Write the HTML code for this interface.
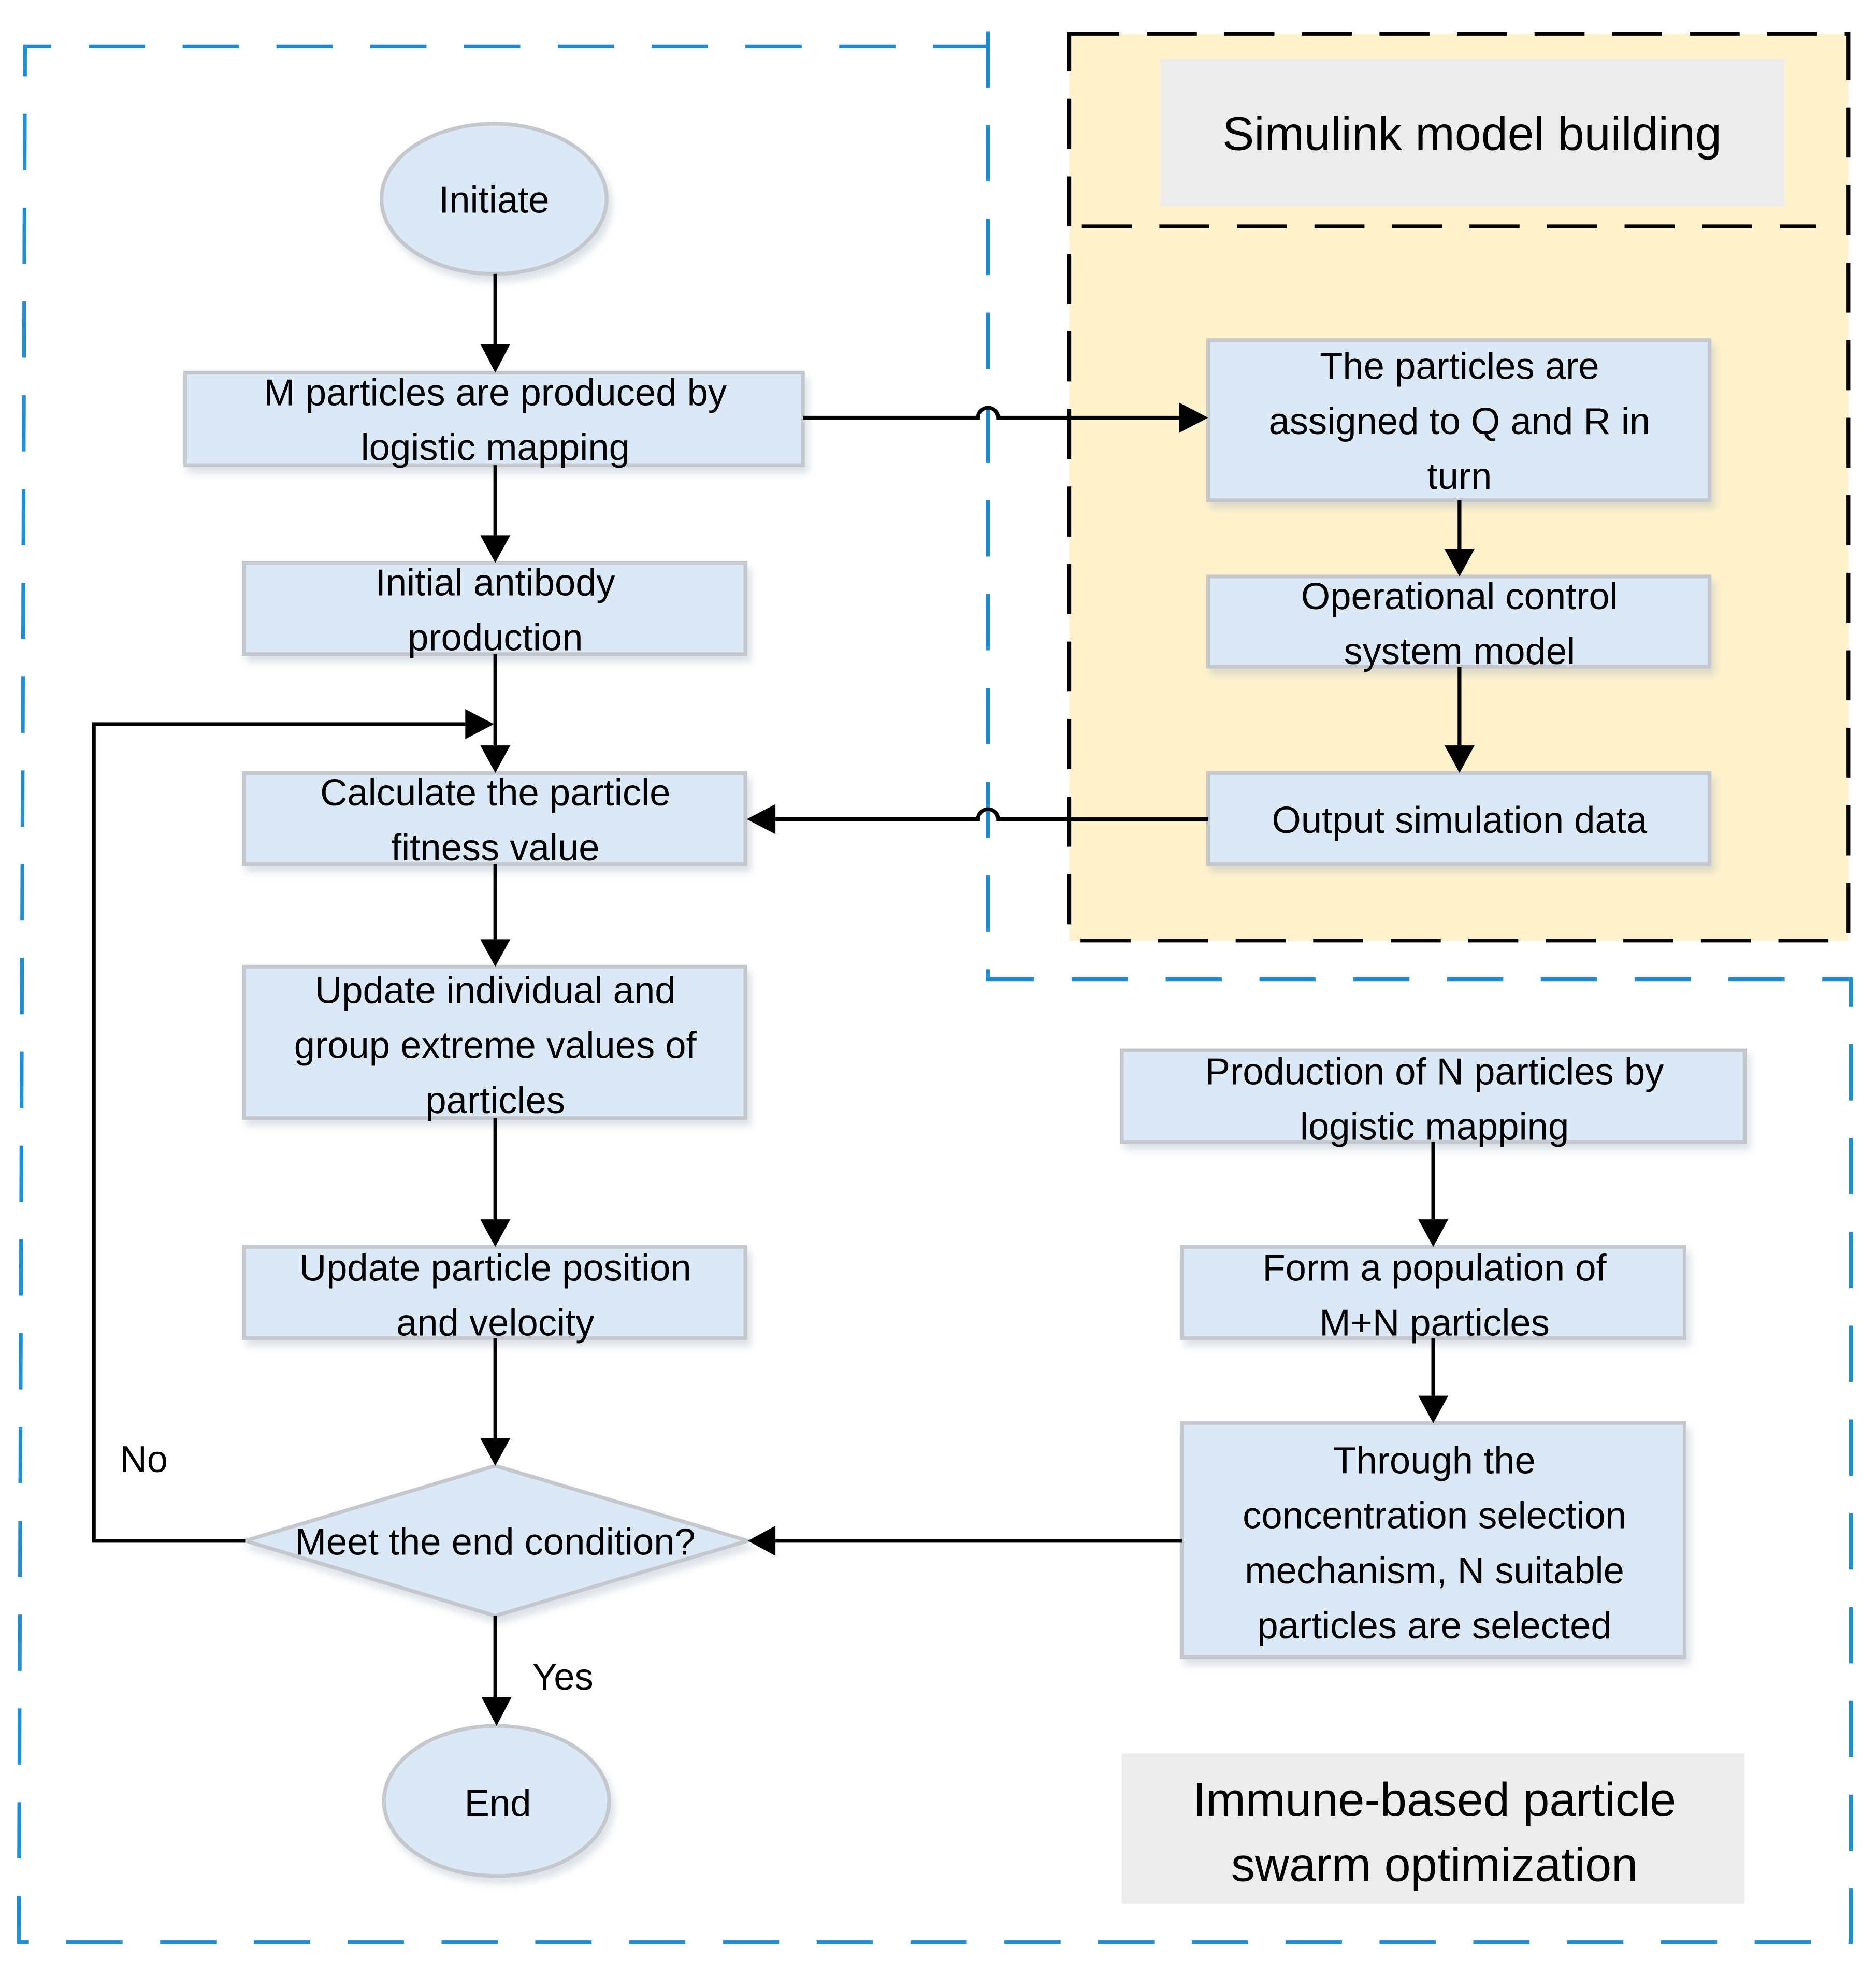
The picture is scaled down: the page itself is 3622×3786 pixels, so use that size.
<!DOCTYPE html>
<html><head><meta charset="utf-8"><style>
html,body{margin:0;padding:0;background:#fff;}
svg{display:block;}
text{font-family:"Liberation Sans",sans-serif;fill:#000;}
</style></head><body>
<svg width="3622" height="3786" viewBox="0 0 1500 1568" xmlns="http://www.w3.org/2000/svg">
<defs>
<marker id="a" markerWidth="10" markerHeight="10" refX="9" refY="5" orient="auto" markerUnits="userSpaceOnUse" viewBox="0 0 10 10">
</marker>
<filter id="s" x="-10%" y="-10%" width="130%" height="140%"><feDropShadow dx="3" dy="5" stdDeviation="3" flood-color="#9ab" flood-opacity="0.35"/></filter>
</defs>
<rect width="1500" height="1568" fill="#fff"/>
<!-- yellow box -->
<rect x="855" y="27" width="623" height="725" fill="#fff2cc" stroke="#000" stroke-width="3" stroke-dasharray="40,22"/>
<line x1="865" y1="181" x2="1452" y2="181" stroke="#000" stroke-width="3" stroke-dasharray="40,22"/>
<rect x="928" y="47" width="499" height="118" fill="#ececec"/>
<text x="1177" y="120" font-size="38" text-anchor="middle">Simulink model building</text>
<!-- blue dashed outline -->
<path d="M790 25 L790 783 L1480 783 L1480 1553 L15 1553 L20 37 L790 37" fill="none" stroke="#1e8fd5" stroke-width="3" stroke-dasharray="45,30"/>
<rect x="897" y="1402" width="498" height="120" fill="#ececec"/>
<text x="1147" y="1452" font-size="38" text-anchor="middle">Immune-based particle</text>
<text x="1147" y="1504" font-size="38" text-anchor="middle">swarm optimization</text>
<g fill="#dbe9f6" stroke="#c4c8cc" stroke-width="3" filter="url(#s)">
<ellipse cx="395" cy="159" rx="90" ry="60"/>
<rect x="148" y="298" width="494" height="74"/>
<rect x="195" y="450" width="401" height="73"/>
<rect x="195" y="618" width="401" height="73"/>
<rect x="195" y="773" width="401" height="121"/>
<rect x="195" y="997" width="401" height="73"/>
<polygon points="196,1232 396,1172 598,1232 396,1292"/>
<ellipse cx="397" cy="1440" rx="90" ry="60"/>
<rect x="966" y="272" width="401" height="128"/>
<rect x="966" y="461" width="401" height="72"/>
<rect x="966" y="618" width="401" height="73"/>
<rect x="897" y="840" width="498" height="73"/>
<rect x="945" y="997" width="402" height="73"/>
<rect x="945" y="1138" width="402" height="187"/>
</g>
<g fill="none" stroke="#000" stroke-width="3">
<line x1="396" y1="219" x2="396" y2="275"/>
<line x1="396" y1="372" x2="396" y2="428"/>
<line x1="396" y1="523" x2="396" y2="596"/>
<line x1="396" y1="691" x2="396" y2="751"/>
<line x1="396" y1="894" x2="396" y2="975"/>
<line x1="396" y1="1070" x2="396" y2="1150"/>
<line x1="396" y1="1292" x2="396" y2="1357"/>
<polyline points="196,1232 75,1232 75,579 372,579"/>
<path d="M642 334 L782 334 A8 8 0 0 1 798 334 L943 334"/>
<path d="M966 655 L798 655 A8 8 0 0 0 782 655 L620 655"/>
<line x1="1167" y1="400" x2="1167" y2="439"/>
<line x1="1167" y1="533" x2="1167" y2="596"/>
<line x1="1146" y1="913" x2="1146" y2="975"/>
<line x1="1146" y1="1070" x2="1146" y2="1116"/>
<line x1="945" y1="1232" x2="620" y2="1232"/>
</g>
<g fill="#000">
<polygon points="384,275 408,275 396,298"/>
<polygon points="384,428 408,428 396,450"/>
<polygon points="384,596 408,596 396,618"/>
<polygon points="384,751 408,751 396,773"/>
<polygon points="384,975 408,975 396,997"/>
<polygon points="384,1150 408,1150 396,1172"/>
<polygon points="385,1357 409,1357 397,1380"/>
<polygon points="372,567 372,591 395,579"/>
<polygon points="943,322 943,346 966,334"/>
<polygon points="620,643 620,667 597,655"/>
<polygon points="1155,439 1179,439 1167,461"/>
<polygon points="1155,596 1179,596 1167,618"/>
<polygon points="1134,975 1158,975 1146,997"/>
<polygon points="1134,1116 1158,1116 1146,1138"/>
<polygon points="620,1220 620,1244 598,1232"/>
</g>
<g font-size="30" text-anchor="middle">
<text x="395" y="170">Initiate</text>
<text x="396" y="324">M particles are produced by</text>
<text x="396" y="368">logistic mapping</text>
<text x="396" y="476">Initial antibody</text>
<text x="396" y="520">production</text>
<text x="396" y="644">Calculate the particle</text>
<text x="396" y="688">fitness value</text>
<text x="396" y="802">Update individual and</text>
<text x="396" y="846">group extreme values of</text>
<text x="396" y="890">particles</text>
<text x="396" y="1024">Update particle position</text>
<text x="396" y="1068">and velocity</text>
<text x="396" y="1243">Meet the end condition?</text>
<text x="398" y="1452">End</text>
<text x="1167" y="303">The particles are</text>
<text x="1167" y="347">assigned to Q and R in</text>
<text x="1167" y="391">turn</text>
<text x="1167" y="487">Operational control</text>
<text x="1167" y="531">system model</text>
<text x="1167" y="666">Output simulation data</text>
<text x="1147" y="867">Production of N particles by</text>
<text x="1147" y="911">logistic mapping</text>
<text x="1147" y="1024">Form a population of</text>
<text x="1147" y="1068">M+N particles</text>
<text x="1147" y="1178">Through the</text>
<text x="1147" y="1222">concentration selection</text>
<text x="1147" y="1266">mechanism, N suitable</text>
<text x="1147" y="1310">particles are selected</text>
<text x="115" y="1177">No</text>
<text x="450" y="1351">Yes</text>
</g>
</svg>
</body></html>
